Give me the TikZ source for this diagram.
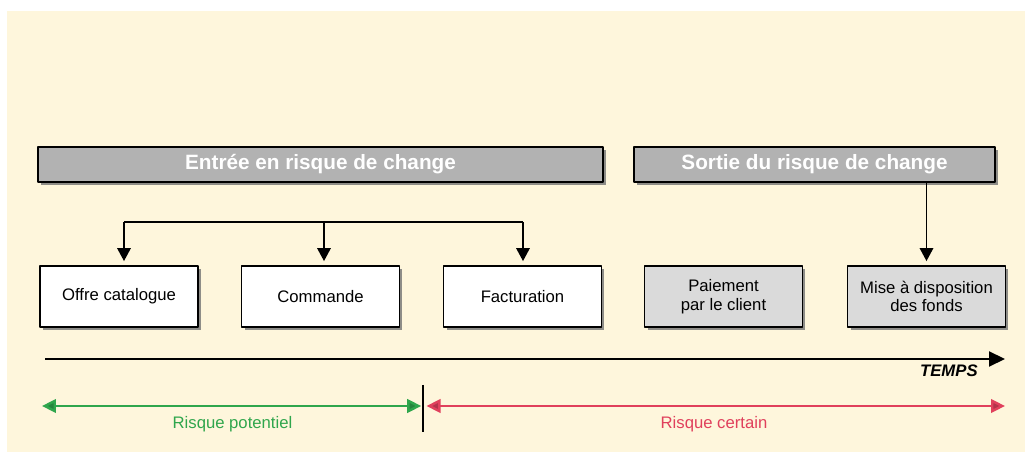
\documentclass[tikz,border=0pt]{standalone}
\usepackage{fontspec}
\setmainfont{Liberation Sans}
\usetikzlibrary{arrows.meta,shadows}
\definecolor{creme}{HTML}{FEF6DC}
\definecolor{grisbarre}{HTML}{B2B2B2}
\definecolor{grisclair}{HTML}{DADADA}
\definecolor{vertrisque}{HTML}{2FA64C}
\definecolor{rougerisque}{HTML}{E0405C}
\begin{document}
\begin{tikzpicture}[x=0.02cm, y=-0.02cm, line join=round,
	>={Triangle[length=0.26cm,width=0.27cm]},
	ombre/.style={drop shadow={shadow xshift=0.06cm, shadow yshift=-0.06cm, fill=black!55, opacity=0.8}},
	barre/.style={draw=black, line width=1.2pt, fill=grisbarre, text=white, ombre,
		font=\bfseries\fontsize{11.8}{14}\selectfont, minimum width=#1, minimum height=0.7cm, inner sep=0pt},
	etape/.style={draw=black, line width=1pt, fill=#1, ombre, align=center,
		font=\fontsize{9.5}{10.5}\selectfont, minimum width=3.16cm, minimum height=1.22cm, inner sep=0pt},
	fleche/.style={line width=1pt, ->, shorten >=2.3pt},
	risque/.style={line width=1.4pt, draw=#1, {Triangle[length=0.28cm,width=0.27cm,fill=#1!80!black]}-{Triangle[length=0.28cm,width=0.27cm,fill=#1!80!black]}}]
	\useasboundingbox (0,0) rectangle (1025,452);
	\fill[creme] (7,11) rectangle (1025,452);
	% bandeaux
	\node[barre=11.3cm] (entree) at (320.5,164.5) {Entrée en risque de change};
	\node[barre=7.22cm] (sortie) at (814.5,164.5) {Sortie du risque de change};
	% etapes
	\foreach \n/\x/\c/\t in {offre/119/white/Offre catalogue, commande/320.5/white/Commande, factu/522.5/white/Facturation,
		paiement/723.5/grisclair/Paiement\\par le client, fonds/926.5/grisclair/Mise à disposition\\des fonds}
		\node[etape=\c] (\n) at (\x,296.5) {\t};
	% accolade
	\path
	(124,222)coordinate(A1)
	(324,222)coordinate(A2)
	(523,222)coordinate(A3)
	;
	\draw[line width=1pt] (A1)--(A3);
	\foreach \c/\n in {A1/offre,A2/commande,A3/factu} \draw[fleche] (\c)--(\c |- \n.north);
	\draw[fleche] (sortie.south -| fonds.north)--(fonds.north);
	% axe du temps
	\path
	(45,359)coordinate(T0)
	(1005,359)coordinate(T1)
	(42,406)coordinate(R0)
	(423,406)coordinate(R1)
	(1005,406)coordinate(R2)
	(423,385)coordinate(C0)
	(423,432)coordinate(C1)
	;
	\draw[line width=1.2pt, -{Triangle[length=0.32cm,width=0.3cm]}] (T0)--(T1);
	\node[anchor=north east, font=\bfseries\itshape\fontsize{9.5}{11}\selectfont, inner sep=0pt] (temps) at (978,364) {TEMPS};
	\draw[line width=1.2pt] (C0)--(C1);
	\draw[risque=vertrisque, shorten >=1pt] (R0)--(R1) node[midway, below=2pt, text=vertrisque, font=\fontsize{9.5}{11}\selectfont] (potentiel) {Risque potentiel};
	\draw[risque=rougerisque, shorten <=2pt] (R1)--(R2) node[midway, below=2pt, text=rougerisque, font=\fontsize{9.5}{11}\selectfont] (certain) {Risque certain};
\end{tikzpicture}
\end{document}
